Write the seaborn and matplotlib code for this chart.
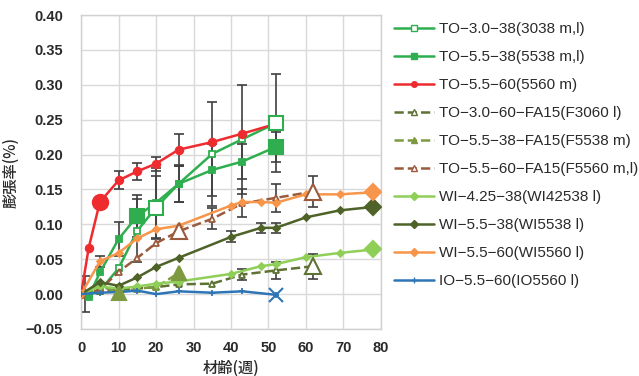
import matplotlib
matplotlib.use("Agg")
import matplotlib.pyplot as plt
import seaborn as sns
import numpy as np
import pandas as pd

# ---------------- data ----------------
labels = [
    "TO−3.0−38(3038 m,l)",
    "TO−5.5−38(5538 m,l)",
    "TO−5.5−60(5560 m)",
    "TO−3.0−60−FA15(F3060 l)",
    "TO−5.5−38−FA15(F5538 m)",
    "TO−5.5−60−FA15(F5560 m,l)",
    "WI−4.25−38(WI42538 l)",
    "WI−5.5−38(WI5538 l)",
    "WI−5.5−60(WI5560 l)",
    "IO−5.5−60(IO5560 l)",
]

to3038_w = [0, 2, 5, 10, 15, 20, 26, 35, 43, 52]
to3038_v = [0.000, 0.000, 0.005, 0.037, 0.091, 0.124, 0.158, 0.201, 0.222, 0.245]
to3038_e = [0, 0, 0, 0, 0.045, 0.045, 0.026, 0.074, 0.078, 0.070]

to5538_w = [0, 2, 5, 10, 15, 20, 26, 35, 43, 52]
to5538_v = [0.000, -0.004, 0.031, 0.079, 0.112, 0.131, 0.158, 0.178, 0.190, 0.211]
to5538_e = [0, 0, 0, 0.025, 0.030, 0.050, 0.026, 0.037, 0.025, 0.022]

to5560_w = [0, 2, 5, 10, 15, 20, 26, 35, 43, 52]
to5560_v = [0.000, 0.066, 0.132, 0.163, 0.176, 0.187, 0.207, 0.218, 0.230, 0.244]
to5560_e = [0, 0, 0, 0.013, 0.012, 0.010, 0.022, 0, 0, 0]

f3060_w = [0, 5, 10, 15, 20, 26, 35, 43, 52, 62]
f3060_v = [0.000, 0.004, 0.006, 0.008, 0.010, 0.014, 0.015, 0.028, 0.034, 0.040]
f3060_e = [0, 0, 0, 0, 0, 0, 0, 0.008, 0.012, 0.018]

f5538_w = [0, 5, 10, 15, 20, 26]
f5538_v = [0.000, 0.012, 0.002, 0.008, 0.010, 0.030]

f5560_w = [0, 5, 10, 15, 20, 26, 35, 43, 52, 62]
f5560_v = [0.000, 0.006, 0.032, 0.052, 0.073, 0.090, 0.108, 0.130, 0.138, 0.147]
f5560_e = [0, 0, 0, 0, 0, 0, 0.015, 0.020, 0.020, 0.022]

wi42538_w = [0, 5, 10, 15, 20, 26, 40, 48, 52, 60, 69, 78]
wi42538_v = [0.000, 0.011, 0.008, 0.011, 0.015, 0.018, 0.029, 0.040, 0.043, 0.053, 0.059, 0.064]

wi5538_w = [0, 5, 10, 15, 20, 26, 40, 48, 52, 60, 69, 78]
wi5538_v = [0.000, 0.017, 0.012, 0.024, 0.039, 0.052, 0.082, 0.095, 0.095, 0.110, 0.120, 0.125]
wi5538_e = [0, 0, 0, 0, 0, 0, 0.008, 0.007, 0.007, 0, 0, 0]

wi5560_w = [0, 5, 10, 15, 20, 26, 40, 43, 48, 52, 60, 69, 78]
wi5560_v = [0.000, 0.047, 0.059, 0.080, 0.093, 0.098, 0.127, 0.132, 0.132, 0.131, 0.143, 0.143, 0.146]
wi5560_e = [0, 0.008, 0, 0, 0, 0, 0, 0, 0, 0, 0, 0, 0]

io5560_w = [0, 5, 10, 15, 20, 26, 35, 43, 52]
io5560_v = [0.000, 0.002, 0.003, 0.005, 0.000, 0.004, 0.002, 0.004, -0.001]

origin_err_w = [1]
origin_err_v = [0.0]
origin_err_e = [0.026]

xticks = [0, 10, 20, 30, 40, 50, 60, 70, 80]
yticks = [-0.05, 0.00, 0.05, 0.10, 0.15, 0.20, 0.25, 0.30, 0.35, 0.40]

# ---------------- styling ----------------
sns.set_theme(style="whitegrid")
plt.rcParams['font.family'] = ['Liberation Sans', 'Noto Sans CJK JP', 'DejaVu Sans']
plt.rcParams['axes.unicode_minus'] = False

fig = plt.figure(figsize=(6.39, 3.76), dpi=100)
ax = fig.add_axes([0.127, 0.125, 0.469, 0.835])

GREEN = "#2fae50"
RED = "#ee2b2e"
OLIVE_D = "#5e7233"
OLIVE_L = "#7d9a40"
BROWN = "#9a5a3c"
LGREEN = "#8fcf58"
DOLIVE = "#4f6228"
ORANGE = "#f7964a"
BLUE = "#2e75b6"
ERR = "#404040"
TXT = "#2a2a2a"

series = [
    # weeks, values, color, marker, filled, ls, big indices, big size, small size
    (to3038_w, to3038_v, GREEN, "s", False, "-", [5, 9], 10, 5),
    (to5538_w, to5538_v, GREEN, "s", True, "-", [4, 9], 10, 5),
    (to5560_w, to5560_v, RED, "o", True, "-", [2], 11, 5.5),
    (f3060_w, f3060_v, OLIVE_D, "^", False, "--", [9], 11, 5),
    (f5538_w, f5538_v, OLIVE_L, "^", True, "--", [2, 5], 10, 5),
    (f5560_w, f5560_v, BROWN, "^", False, "--", [5, 9], 11, 5),
    (wi42538_w, wi42538_v, LGREEN, "D", True, "-", [11], 8, 3.5),
    (wi5538_w, wi5538_v, DOLIVE, "D", True, "-", [11], 8, 3.5),
    (wi5560_w, wi5560_v, ORANGE, "D", True, "-", [12], 8, 3.5),
    (io5560_w, io5560_v, BLUE, "+", True, "-", [8], 10, 5),
]

errs = [
    (to3038_w, to3038_v, to3038_e),
    (to5538_w, to5538_v, to5538_e),
    (to5560_w, to5560_v, to5560_e),
    (f3060_w, f3060_v, f3060_e),
    (f5560_w, f5560_v, f5560_e),
    (wi5538_w, wi5538_v, wi5538_e),
    (wi5560_w, wi5560_v, wi5560_e),
    (origin_err_w, origin_err_v, origin_err_e),
]
for w, v, e in errs:
    w = np.array(w); v = np.array(v); e = np.array(e)
    m = e > 0
    ax.errorbar(w[m], v[m], yerr=e[m], fmt="none", ecolor=ERR, elinewidth=1.2,
                capsize=3.5, capthick=1.2, zorder=2)

handles = []
for (w, v, c, mk, filled, ls, big, bsz, ssz), lab in zip(series, labels):
    df = pd.DataFrame({"w": w, "v": v})
    fc = c if filled else "white"
    sns.lineplot(data=df, x="w", y="v", ax=ax, color=c, linewidth=1.8,
                 linestyle=ls, marker=mk, markersize=ssz,
                 markerfacecolor=fc, markeredgecolor=c, markeredgewidth=1.3,
                 zorder=3, legend=False)
    bw = [w[i] for i in big]
    bv = [v[i] for i in big]
    bmk = "x" if mk == "+" else mk
    ax.plot(bw, bv, linestyle="none", marker=bmk, markersize=bsz,
            markerfacecolor=fc, markeredgecolor=c, markeredgewidth=1.5, zorder=4)
    h, = ax.plot([], [], color=c, linestyle=ls, linewidth=1.8, marker=mk,
                 markersize=4, markerfacecolor=fc, markeredgecolor=c, label=lab)
    handles.append(h)

ax.set_xlim(0, 80)
ax.set_ylim(-0.05, 0.40)
ax.set_xticks(xticks)
ax.set_yticks(yticks)
ax.set_yticklabels([f"{t:.2f}" if t >= 0 else f"−{abs(t):.2f}" for t in yticks])
ax.tick_params(axis="both", labelsize=10.5, labelcolor=TXT, length=0)
ax.tick_params(axis="x", pad=9)
ax.tick_params(axis="y", pad=13)
for lbl in ax.get_xticklabels() + ax.get_yticklabels():
    lbl.set_fontweight("bold")
ax.grid(True, color="#d9d9d9", linewidth=1.0)
for s in ax.spines.values():
    s.set_color("#d0d0d0")
    s.set_linewidth(1.0)
ax.set_xlabel("材齢(週)", fontsize=11, color=TXT, labelpad=3,
              family=['Noto Sans CJK JP', 'DejaVu Sans'], fontweight="medium")
ax.set_ylabel("膨張率(%)", fontsize=11, color=TXT, labelpad=5,
              family=['Noto Sans CJK JP', 'DejaVu Sans'], fontweight="medium")

fig.legend(handles=handles, loc="upper left", bbox_to_anchor=(0.605, 0.962),
           frameon=False, fontsize=11, handlelength=2.6, labelspacing=0.92,
           handletextpad=0.3, borderpad=0, labelcolor=TXT)

fig.savefig("out.png", dpi=100)
